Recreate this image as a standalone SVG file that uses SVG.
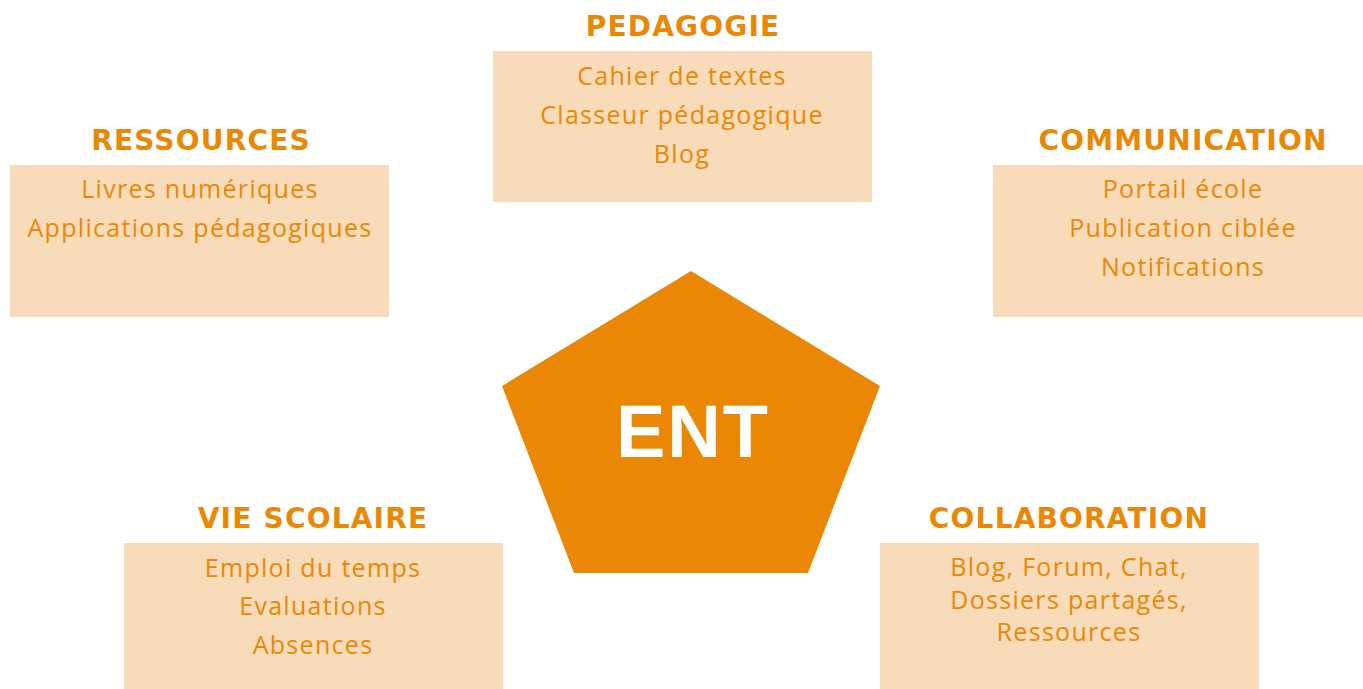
<svg xmlns="http://www.w3.org/2000/svg" width="1363" height="689" viewBox="0 0 1363 689">
<style>
.box{fill:#F8DBB8}
.title{font-family:"DejaVu Sans","Liberation Sans",sans-serif;font-weight:bold;font-size:28px;fill:#EA8805;text-anchor:middle;letter-spacing:1.2px}
.item{font-family:"Open Sans","Liberation Sans",sans-serif;font-size:25px;fill:#EA8805;text-anchor:middle;letter-spacing:1.3px}
.center{font-family:"Liberation Sans",Arial,sans-serif;font-weight:bold;font-size:74px;fill:#FFFFFF;text-anchor:middle;letter-spacing:2px}
</style>
<rect width="1363" height="689" fill="#FFFFFF"/>
<g id="connectors"></g>
<g id="ent">
<polygon points="691,271 880,386 808,573 574,573 502,386" fill="#EA8805"/>
<text class="center" x="693" y="457">ENT</text>
</g>
<g id="pedagogie">
<text class="title" x="683" y="36">PEDAGOGIE</text>
<rect class="box" x="493" y="51" width="379" height="151"/>
<text class="item" x="682" y="85">Cahier de textes</text>
<text class="item" x="682" y="124">Classeur pédagogique</text>
<text class="item" x="682" y="163">Blog</text>
</g>
<g id="ressources">
<text class="title" x="201" y="150">RESSOURCES</text>
<rect class="box" x="10" y="165" width="379" height="152"/>
<text class="item" x="200" y="198">Livres numériques</text>
<text class="item" x="200" y="237">Applications pédagogiques</text>
</g>
<g id="communication">
<text class="title" x="1183" y="150">COMMUNICATION</text>
<rect class="box" x="993" y="165" width="379" height="152"/>
<text class="item" x="1183" y="198">Portail école</text>
<text class="item" x="1183" y="237">Publication ciblée</text>
<text class="item" x="1183" y="276">Notifications</text>
</g>
<g id="vie-scolaire">
<text class="title" x="313" y="528">VIE SCOLAIRE</text>
<rect class="box" x="124" y="543" width="379" height="146"/>
<text class="item" x="313" y="577">Emploi du temps</text>
<text class="item" x="313" y="615">Evaluations</text>
<text class="item" x="313" y="654">Absences</text>
</g>
<g id="collaboration">
<text class="title" x="1069" y="528">COLLABORATION</text>
<rect class="box" x="880" y="543" width="379" height="146"/>
<text class="item" x="1069" y="576">Blog, Forum, Chat,</text>
<text class="item" x="1069" y="609">Dossiers partagés,</text>
<text class="item" x="1069" y="641">Ressources</text>
</g>
</svg>
